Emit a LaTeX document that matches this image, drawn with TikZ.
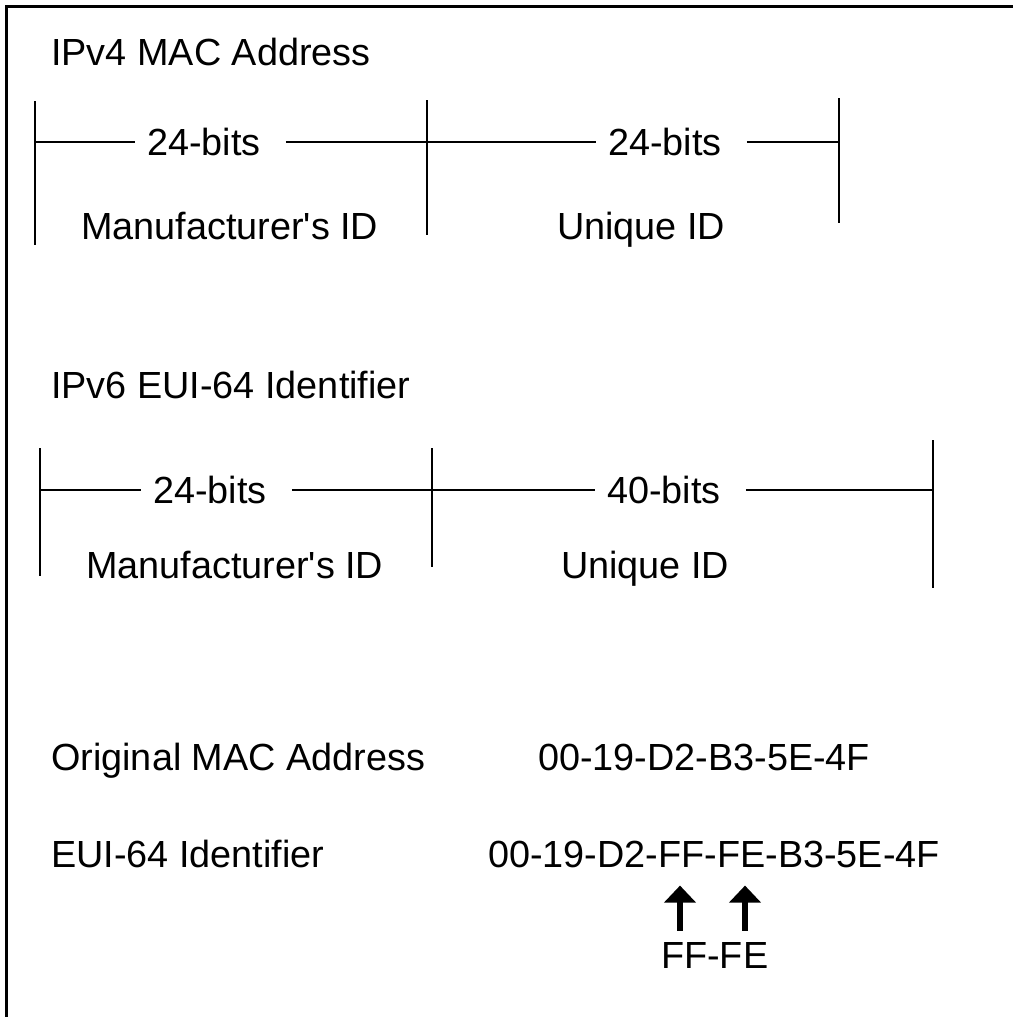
\documentclass[tikz,border=0pt]{standalone}
\usepackage{fontspec}
\setmainfont{Liberation Sans}
\usetikzlibrary{arrows.meta,positioning}
\tikzset{
  txt/.style={inner sep=0pt, anchor=base west, font=\fontsize{37.8}{45}\selectfont},
  bits/.style={inner xsep=12pt, inner ysep=0pt, anchor=west, font=\fontsize{37.8}{45}\selectfont},
  bar/.style={line width=1.2pt},
  upmark/.style={line width=6pt, -{Triangle[width=31pt,length=17pt]}}
}
\begin{document}
\begin{tikzpicture}[x=1pt,y=-1pt]
  \useasboundingbox (0,0) rectangle (1013,1017);
  \draw[line width=3pt] (6,1017) -- (6,6) -- (1013,6);

  % IPv4
  \node[txt] (v4_title) at (51,65) {IPv4 MAC Address};
  \coordinate (v4_a) at (35,142);
  \coordinate (v4_b) at (427,142);
  \coordinate (v4_c) at (839,142);
  \node[bits] (v4_bits1) at (135,142) {24-bits};
  \node[bits] (v4_bits2) at (596,142) {24-bits};
  \node[txt] (v4_man) at (81,239) {Manufacturer\textquotesingle s ID};
  \node[txt] (v4_uid) at (557,239) {Unique ID};
  \draw[bar] (v4_a) ++(0,-41) -- ++(0,144);
  \draw[bar] (v4_b) ++(0,-42) -- ++(0,135);
  \draw[bar] (v4_c) ++(0,-44) -- ++(0,125);
  \draw[bar] (v4_a) -- (v4_bits1);
  \draw[bar, shorten <=13pt] (v4_bits1) -- (v4_b) -- (v4_bits2);
  \draw[bar, shorten <=13pt] (v4_bits2) -- (v4_c);

  % IPv6
  \node[txt] (v6_title) at (51,398) {IPv6 EUI-64 Identifier};
  \coordinate (v6_a) at (40,490);
  \coordinate (v6_b) at (432,490);
  \coordinate (v6_c) at (933,490);
  \node[bits] (v6_bits1) at (141,490) {24-bits};
  \node[bits] (v6_bits2) at (595,490) {40-bits};
  \node[txt] (v6_man) at (86,578) {Manufacturer\textquotesingle s ID};
  \node[txt] (v6_uid) at (561,578) {Unique ID};
  \draw[bar] (v6_a) ++(0,-42) -- ++(0,128);
  \draw[bar] (v6_b) ++(0,-42) -- ++(0,119);
  \draw[bar] (v6_c) ++(0,-50) -- ++(0,148);
  \draw[bar] (v6_a) -- (v6_bits1);
  \draw[bar, shorten <=13pt] (v6_bits1) -- (v6_b) -- (v6_bits2);
  \draw[bar, shorten <=13pt] (v6_bits2) -- (v6_c);

  % conversion
  \node[txt] (orig_lbl) at (51,770) {Original MAC Address};
  \node[txt] (orig) at (538,770) {00-19-D2-B3-5E-4F};
  \node[txt] (eui_lbl) at (51,867) {EUI-64 Identifier};
  \node[txt] (eui) at (488,867) {00-19-D2-FF-FE-B3-5E-4F};
  \node[txt] (fffe) at (661,968) {FF-FE};
  \coordinate (m1) at (680,0);
  \coordinate (m2) at (745,0);
  \draw[upmark, shorten <=11pt, shorten >=18pt] (m1 |- fffe.north) -- (m1 |- eui.south);
  \draw[upmark, shorten <=11pt, shorten >=18pt] (m2 |- fffe.north) -- (m2 |- eui.south);
\end{tikzpicture}
\end{document}
